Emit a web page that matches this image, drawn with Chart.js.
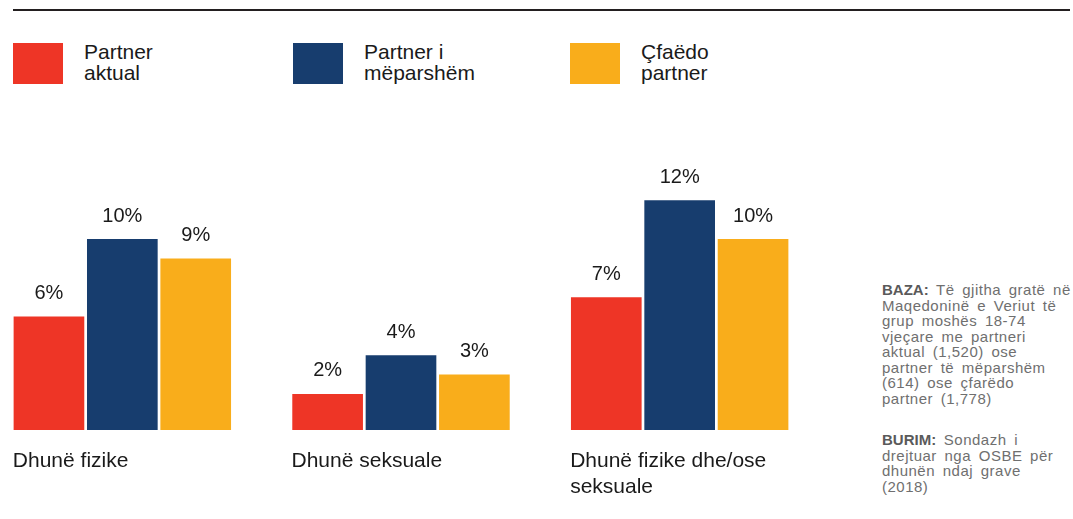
<!DOCTYPE html>
<html>
<head>
<meta charset="utf-8">
<script src="https://cdn.jsdelivr.net/npm/chart.js@4.4.1/dist/chart.umd.min.js"></script>
<style>
body { margin: 0; background: #fff; font-family: "Liberation Sans", Arial, sans-serif; }
#page { position: relative; width: 1073px; height: 519px; overflow: hidden; }
#rule { position: absolute; left: 13px; top: 9px; width: 1057px; height: 2px; background: #231f20; }
.legend-item { position: absolute; top: 43px; }
.legend-box { position: absolute; left: 0; top: 0; width: 50px; height: 41px; }
.legend-text { position: absolute; left: 71px; top: -2px; font-size: 21px; line-height: 21px; color: #1a1a1a; white-space: pre; }
#chartWrap { position: absolute; left: -17px; top: 0; width: 836px; height: 519px; }
.note { position: absolute; left: 882px; font-size: 15px; line-height: 15.5px; color: #6f6f6f; white-space: pre; letter-spacing: 0.5px; word-spacing: 3px; }
.note b { color: #5a5a5a; letter-spacing: 0; }
</style>
</head>
<body>
<div id="page">
  <div id="rule"></div>
  <div id="legend"></div>
  <div id="chartWrap"><canvas id="chart"></canvas></div>
  <div class="note" style="top:282px"><b>BAZA:</b> Të gjitha gratë në
Maqedoninë e Veriut të
grup moshës 18-74
vjeçare me partneri
aktual (1,520) ose
partner të mëparshëm
(614) ose çfarëdo
partner (1,778)</div>
  <div class="note" style="top:432px"><b>BURIM:</b> Sondazh i
drejtuar nga OSBE për
dhunën ndaj grave
(2018)</div>
</div>
<script>
// categories and series
var categories = [
    ["Dhunë fizike"],
    ["Dhunë seksuale"],
    ["Dhunë fizike dhe/ose", "seksuale"]
];
var seriesNames = ["Partner\naktual", "Partner i\nmëparshëm", "Çfaëdo\npartner"];
var seriesColors = ["#ee3526", "#173d6e", "#f9ad1b"];
var currentPartner = [6, 2, 7];
var formerPartner = [10, 4, 12];
var anyPartner = [9, 3, 10];

var legendLefts = [13, 293, 570];

function buildLegend() {
    var $legend = document.getElementById("legend");
    for (var i = 0; i < seriesNames.length; i++) {
        var item = document.createElement("div");
        item.className = "legend-item";
        item.style.left = legendLefts[i] + "px";
        var box = document.createElement("div");
        box.className = "legend-box";
        box.style.background = seriesColors[i];
        var txt = document.createElement("div");
        txt.className = "legend-text";
        txt.textContent = seriesNames[i];
        item.appendChild(box);
        item.appendChild(txt);
        $legend.appendChild(item);
    }
}

var valueLabels = {
    id: "valueLabels",
    afterDatasetsDraw: function (chart) {
        var ctx = chart.ctx;
        ctx.save();
        ctx.font = '20px "Liberation Sans", Arial, sans-serif';
        ctx.fillStyle = "#1a1a1a";
        ctx.textAlign = "center";
        ctx.textBaseline = "alphabetic";
        chart.data.datasets.forEach(function (ds, i) {
            chart.getDatasetMeta(i).data.forEach(function (bar, j) {
                ctx.fillText(ds.data[j] + "%", bar.x, bar.y - 17.5);
            });
        });
        ctx.restore();
    }
};

function buildChart() {
    var seriesData = [currentPartner, formerPartner, anyPartner];
    var datasets = [];
    for (var i = 0; i < seriesData.length; i++) {
        datasets.push({
            label: seriesNames[i],
            data: seriesData[i],
            backgroundColor: seriesColors[i],
            borderWidth: 0,
            barPercentage: 0.963,
            categoryPercentage: 0.79
        });
    }

    var chart = new Chart(document.getElementById("chart"), {
        type: "bar",
        data: {
            labels: categories,
            datasets: datasets
        },
        options: {
            responsive: true,
            maintainAspectRatio: false,
            animation: false,
            layout: { padding: 0 },
            plugins: {
                legend: { display: false },
                tooltip: { enabled: false }
            },
            scales: {
                x: {
                    grid: { display: false, drawTicks: false, tickLength: 0 },
                    border: { display: false },
                    ticks: {
                        align: "start",
                        labelOffset: -109.5,
                        padding: 18,
                        color: "#1a1a1a",
                        maxRotation: 0,
                        autoSkip: false,
                        font: { family: '"Liberation Sans", Arial, sans-serif', size: 21, lineHeight: "26px" }
                    },
                    afterFit: function (scale) {
                        // labels are left-aligned to the bar groups, no extra room needed
                        scale.height = 89;
                        scale.paddingLeft = 0;
                        scale.paddingRight = 0;
                    }
                },
                y: {
                    display: false,
                    min: 0.14,
                    max: 22.34
                }
            }
        },
        plugins: [valueLabels]
    });

    return chart;
}

buildLegend();
buildChart();
</script>
</body>
</html>
